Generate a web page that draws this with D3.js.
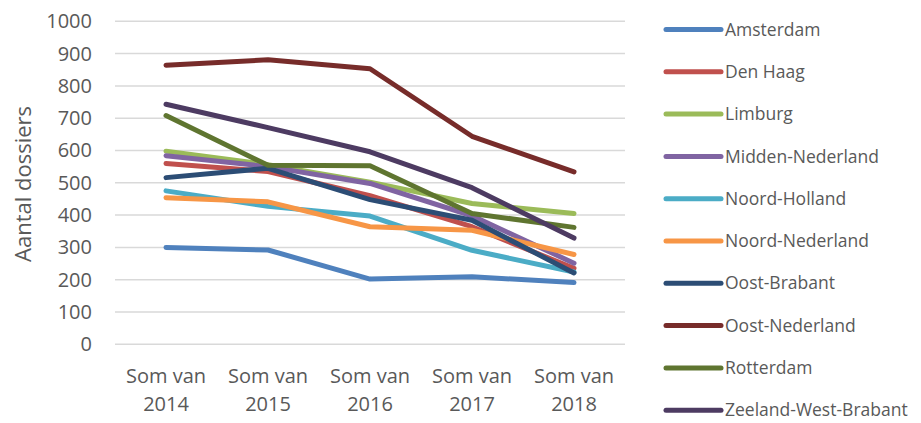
<!DOCTYPE html>
<html>
<head>
<meta charset="utf-8">
<script src="https://cdn.jsdelivr.net/npm/d3@7"></script>
<style>
  body { margin: 0; background: #fff; }
  svg { display: block; font-family: "Open Sans", "Noto Sans", sans-serif; }
</style>
</head>
<body>
<script>
// Data
const years = ["2014", "2015", "2016", "2017", "2018"];
const regions = ["Amsterdam", "Den Haag", "Limburg", "Midden-Nederland", "Noord-Holland",
  "Noord-Nederland", "Oost-Brabant", "Oost-Nederland", "Rotterdam", "Zeeland-West-Brabant"];
const amsterdam = [300, 292, 202, 209, 191];
const denHaag = [560, 535, 460, 364, 235];
const limburg = [598, 556, 502, 436, 405];
const middenNederland = [584, 550, 498, 398, 251];
const noordHolland = [475, 427, 397, 291, 224];
const noordNederland = [454, 441, 364, 353, 278];
const oostBrabant = [516, 545, 448, 384, 221];
const oostNederland = [864, 881, 853, 644, 534];
const rotterdam = [708, 554, 553, 405, 362];
const zeelandWestBrabant = [743, 671, 596, 485, 329];
const seriesValues = [amsterdam, denHaag, limburg, middenNederland, noordHolland,
  noordNederland, oostBrabant, oostNederland, rotterdam, zeelandWestBrabant];
const colors = ["#4F81BD", "#C0504D", "#9BBB59", "#8064A2", "#4BACC6",
  "#F79646", "#2C4D75", "#772C2A", "#5F7530", "#4D3B62"];
const yTicks = [0, 100, 200, 300, 400, 500, 600, 700, 800, 900, 1000];

const width = 921, height = 423;
const svg = d3.select("body").append("svg")
  .attr("width", width)
  .attr("height", height);

const x = d3.scaleBand().domain(years).range([115, 625]);
const y = d3.scaleLinear().domain([0, 1000]).range([344.3, 21.3]);
const textColor = "#595959";

// Gridlines
svg.append("g")
  .selectAll("line")
  .data(yTicks)
  .join("line")
  .attr("x1", 115)
  .attr("x2", 625)
  .attr("y1", d => y(d))
  .attr("y2", d => y(d))
  .attr("stroke", "#d9d9d9")
  .attr("stroke-width", 1.5);

// Y axis labels
const yAxis = svg.append("g")
  .attr("transform", "translate(100,0)")
  .call(d3.axisLeft(y).tickValues(yTicks).tickFormat(d3.format("d")).tickSize(0).tickPadding(8));
yAxis.select(".domain").remove();
yAxis.selectAll("text")
  .attr("fill", textColor)
  .attr("font-size", 20)
  .attr("font-family", "Open Sans, sans-serif");

// Axis title
svg.append("text")
  .attr("transform", "translate(31,184) rotate(-90)")
  .attr("text-anchor", "middle")
  .attr("fill", textColor)
  .attr("font-size", 22)
  .text("Aantal dossiers");

// X axis labels (two lines)
const xLab = svg.append("g")
  .selectAll("text")
  .data(years)
  .join("text")
  .attr("text-anchor", "middle")
  .attr("fill", textColor)
  .attr("font-size", 20)
  .attr("x", d => x(d) + x.bandwidth() / 2);
xLab.append("tspan")
  .attr("x", d => x(d) + x.bandwidth() / 2)
  .attr("y", 383)
  .text("Som van");
xLab.append("tspan")
  .attr("x", d => x(d) + x.bandwidth() / 2)
  .attr("y", 411)
  .text(d => d);

// Lines
const line = d3.line()
  .x((d, i) => x(years[i]) + x.bandwidth() / 2)
  .y(d => y(d));

svg.append("g")
  .selectAll("path")
  .data(seriesValues)
  .join("path")
  .attr("d", d => line(d))
  .attr("fill", "none")
  .attr("stroke", (d, i) => colors[i])
  .attr("stroke-width", 5)
  .attr("stroke-linecap", "round")
  .attr("stroke-linejoin", "round");

// Legend
const legend = svg.append("g")
  .selectAll("g")
  .data(regions)
  .join("g")
  .attr("transform", (d, i) => `translate(666,${29.5 + i * 42.3})`);
legend.append("line")
  .attr("x1", 0)
  .attr("x2", 55)
  .attr("stroke", (d, i) => colors[i])
  .attr("stroke-width", 5)
  .attr("stroke-linecap", "round");
legend.append("text")
  .attr("x", 59)
  .attr("dy", "0.35em")
  .attr("fill", textColor)
  .attr("font-size", 17.5)
  .text(d => d);
</script>
</body>
</html>
